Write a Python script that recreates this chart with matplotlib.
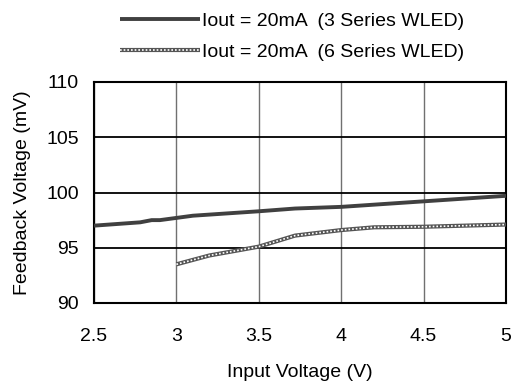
import matplotlib
matplotlib.use("Agg")
import matplotlib.pyplot as plt
from matplotlib.legend_handler import HandlerTuple

plt.rcParams['font.family'] = ['Liberation Sans', 'DejaVu Sans']

vin_3 = [2.5, 2.78, 2.85, 2.9, 3.0, 3.1, 3.2, 3.5, 3.72, 4.0, 4.5, 5.0]
vfb_3 = [97.0, 97.3, 97.5, 97.5, 97.7, 97.9, 98.0, 98.3, 98.55, 98.7, 99.2, 99.7]
vin_6 = [3.0, 3.2, 3.5, 3.72, 4.0, 4.2, 4.5, 5.0]
vfb_6 = [93.5, 94.3, 95.1, 96.1, 96.6, 96.85, 96.9, 97.1]

label_3 = "Iout = 20mA  (3 Series WLED)"
label_6 = "Iout = 20mA  (6 Series WLED)"
xticks = [2.5, 3, 3.5, 4, 4.5, 5]
xtick_labels = ["2.5", "3", "3.5", "4", "4.5", "5"]
yticks = [90, 95, 100, 105, 110]

FS = 14

fig = plt.figure(figsize=(5.14, 3.85), dpi=100)
ax = fig.add_axes([94/514, 1-303/385, 412/514, 221/385])

l1, = ax.plot(vin_3, vfb_3, color='#404040', lw=2.8, solid_capstyle='butt', zorder=3)
l2a, = ax.plot(vin_6, vfb_6, color='#555555', lw=3.0, solid_capstyle='butt', zorder=3)
l2b, = ax.plot(vin_6, vfb_6, color='white', lw=1.2, linestyle=(0, (1, 1.2)), zorder=4)

ax.set_xlim(2.5, 5)
ax.set_ylim(90, 110)
ax.set_xticks(xticks)
ax.set_xticklabels(xtick_labels)
ax.set_yticks(yticks)
ax.tick_params(axis='both', length=0, labelsize=FS, colors='black')
ax.tick_params(axis='x', pad=18)
ax.tick_params(axis='y', pad=11)
ax.xaxis.grid(True, color='#707070', lw=1.0)
ax.yaxis.grid(True, color='black', lw=1.3)
ax.set_axisbelow(True)
for s in ax.spines.values():
    s.set_linewidth(1.5)
    s.set_color('black')

ax.set_xlabel("Input Voltage (V)", fontsize=FS, labelpad=14)
ax.set_ylabel("Feedback Voltage (mV)", fontsize=FS, labelpad=11)

fig.legend([l1, (l2a, l2b)], [label_3, label_6],
           handler_map={tuple: HandlerTuple(ndivide=1, pad=0)},
           loc='upper left', bbox_to_anchor=(120/514, 1 - 12/385), frameon=False,
           borderpad=0, borderaxespad=0,
           fontsize=FS, handlelength=4.1, handletextpad=0.1, labelspacing=0.72)

fig.savefig("out.png", dpi=100)
